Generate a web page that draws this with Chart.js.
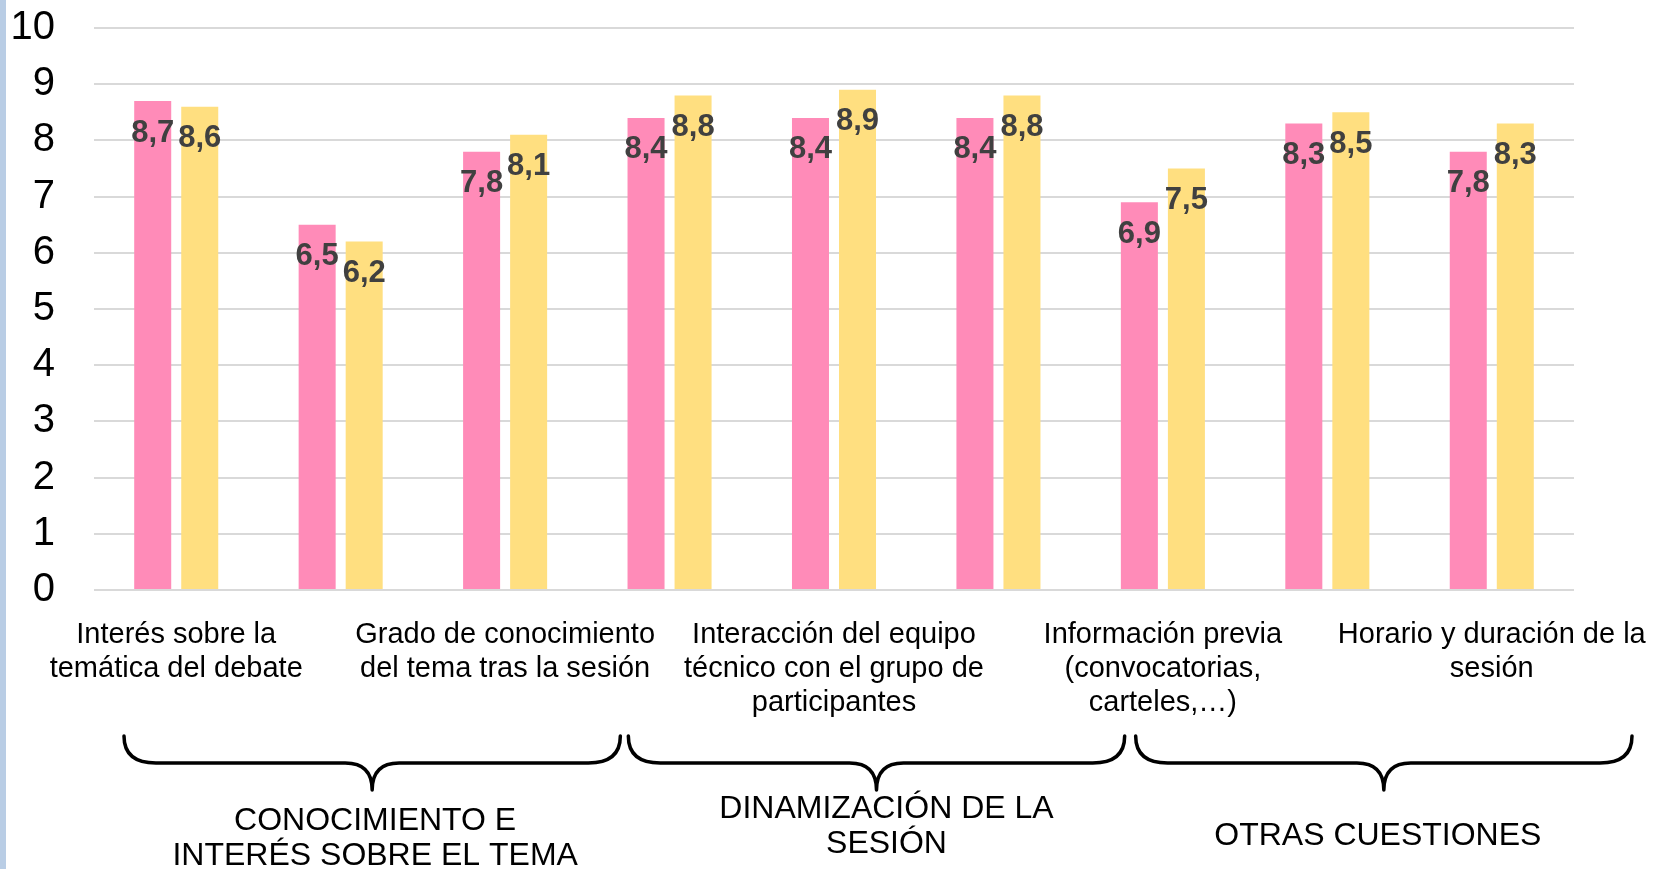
<!DOCTYPE html>
<html>
<head>
<meta charset="utf-8">
<script src="https://cdn.jsdelivr.net/npm/chart.js@4.4.0/dist/chart.umd.min.js"></script>
<style>
  html, body { margin: 0; padding: 0; background: #fff; }
  #wrap { position: relative; width: 1653px; height: 869px; overflow: hidden; }
  #strip { position: absolute; left: 0; top: 0; width: 6px; height: 869px; background: #b9cde5; }
</style>
</head>
<body>
<div id="wrap">
  <canvas id="Chart1" width="1653" height="869"></canvas>
  <div id="strip"></div>
</div>
<script>
// Every other category label is hidden in the original, so those stay empty.
const categories = [
  ['Interés sobre la', 'temática del debate'],
  '',
  ['Grado de conocimiento', 'del tema tras la sesión'],
  '',
  ['Interacción del equipo', 'técnico con el grupo de', 'participantes'],
  '',
  ['Información previa', '(convocatorias,', 'carteles,…)'],
  '',
  ['Horario y duración de la', 'sesión']
];
const serie1 = [8.7, 6.5, 7.8, 8.4, 8.4, 8.4, 6.9, 8.3, 7.8];
const serie2 = [8.6, 6.2, 8.1, 8.8, 8.9, 8.8, 7.5, 8.5, 8.3];
const yTicks = [0, 1, 2, 3, 4, 5, 6, 7, 8, 9, 10];

const groupNames = [
  ['CONOCIMIENTO E', 'INTERÉS SOBRE EL TEMA'],
  ['DINAMIZACIÓN DE LA', 'SESIÓN'],
  ['OTRAS CUESTIONES']
];
const groupSpans = [[0, 2], [3, 5], [6, 8]];

const FONT = '"Liberation Sans", Arial, sans-serif';

// value labels, just inside the top of each bar
const valueLabels = {
  id: 'valueLabels',
  afterDatasetsDraw(chart) {
    const ctx = chart.ctx;
    ctx.save();
    ctx.font = 'bold 31px ' + FONT;
    ctx.fillStyle = '#404040';
    ctx.textAlign = 'center';
    ctx.textBaseline = 'middle';
    chart.data.datasets.forEach((ds, i) => {
      chart.getDatasetMeta(i).data.forEach((bar, j) => {
        const txt = ds.data[j].toFixed(1).replace('.', ',');
        ctx.fillText(txt, bar.x, bar.y + 32);
      });
    });
    ctx.restore();
  }
};

// curly braces + group names under the x labels
const braces = {
  id: 'braces',
  afterDraw(chart, args, opts) {
    const ctx = chart.ctx;
    const x = chart.scales.x;
    const bottom = chart.chartArea.bottom;
    const half = (x.getPixelForValue(1) - x.getPixelForValue(0)) / 2;
    const yT = bottom + 146, yM = bottom + 173, yB = bottom + 200;
    ctx.save();
    ctx.strokeStyle = '#000';
    ctx.lineWidth = 3.5;
    ctx.lineCap = 'round';
    ctx.lineJoin = 'round';
    groupSpans.forEach((span, g) => {
      const x0 = x.getPixelForValue(span[0]) - half + opts.shift[g];
      const x1 = x.getPixelForValue(span[1]) + half + opts.shift[g] + 3;
      const xc = (x0 + x1) / 2;
      const r = 32, rc = 27;
      ctx.beginPath();
      ctx.moveTo(x0, yT);
      ctx.quadraticCurveTo(x0, yM, x0 + r, yM);
      ctx.lineTo(xc - rc, yM);
      ctx.quadraticCurveTo(xc, yM, xc, yB);
      ctx.quadraticCurveTo(xc, yM, xc + rc, yM);
      ctx.lineTo(x1 - r, yM);
      ctx.quadraticCurveTo(x1, yM, x1, yT);
      ctx.stroke();

      ctx.font = '32px ' + FONT;
      ctx.fillStyle = '#000';
      ctx.textAlign = 'center';
      ctx.textBaseline = 'middle';
      groupNames[g].forEach((line, k) => {
        ctx.fillText(line, xc + opts.dx[g], bottom + opts.dy[g] + k * 35);
      });
    });
    ctx.restore();
  }
};

const ctx = document.getElementById('Chart1').getContext('2d');
const myChart = new Chart(ctx, {
  type: 'bar',
  data: {
    labels: categories,
    datasets: [
      {
        label: 'Serie 1',
        data: serie1,
        backgroundColor: '#ff8bb8',
        borderWidth: 0,
        barPercentage: 0.787,
        categoryPercentage: 0.572
      },
      {
        label: 'Serie 2',
        data: serie2,
        backgroundColor: '#ffdf80',
        borderWidth: 0,
        barPercentage: 0.787,
        categoryPercentage: 0.572
      }
    ]
  },
  options: {
    responsive: false,
    animation: false,
    devicePixelRatio: 1,
    layout: {
      padding: { top: 28, right: 79, bottom: 0, left: 0 }
    },
    plugins: {
      legend: { display: false },
      tooltip: { enabled: false },
      braces: {
        shift: [30, 41, 55],
        dx: [3, 10, -6],
        dy: [231, 219, 246]
      }
    },
    scales: {
      x: {
        grid: { display: false, drawTicks: false },
        border: { display: false },
        ticks: {
          color: '#000',
          font: { family: FONT, size: 29, lineHeight: 1.17 },
          padding: 28,
          maxRotation: 0,
          autoSkip: false
        },
        afterFit: function(scale) {
          scale.height = 279;
          scale.paddingLeft = 0;
          scale.paddingRight = 0;
        }
      },
      y: {
        min: 0,
        max: 10,
        grid: { color: '#d9d9d9', lineWidth: 2, drawTicks: false },
        border: { display: false },
        afterBuildTicks: function(scale) {
          scale.ticks = yTicks.map(v => ({ value: v }));
        },
        ticks: {
          color: '#000',
          font: { family: FONT, size: 40 },
          padding: 39
        },
        afterFit: function(scale) {
          scale.width = 94;
          scale.paddingTop = 0;
          scale.paddingBottom = 0;
        }
      }
    }
  },
  plugins: [valueLabels, braces]
});
</script>
</body>
</html>
